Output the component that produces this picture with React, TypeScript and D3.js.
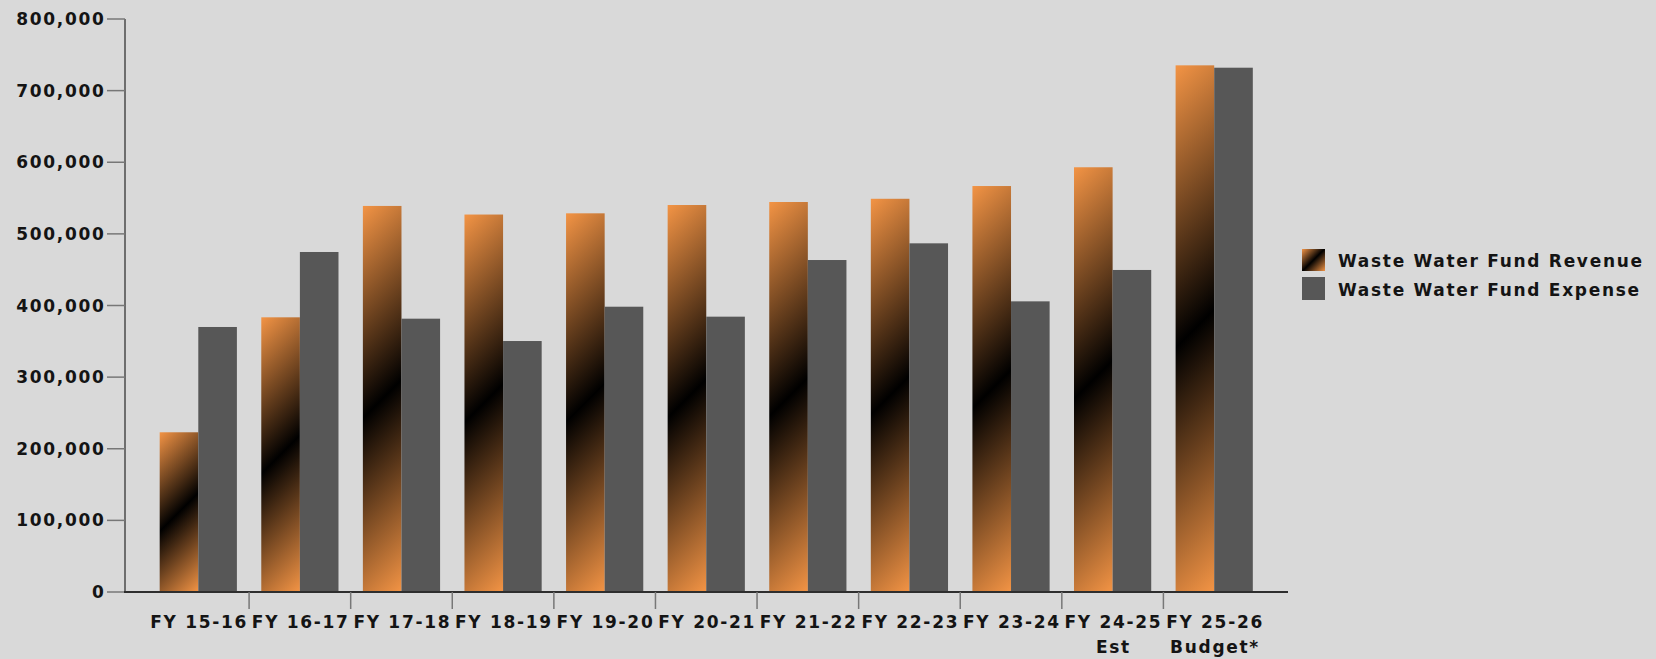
import React from "react";
import * as d3 from "d3";

const categories = [
  "FY 15-16",
  "FY 16-17",
  "FY 17-18",
  "FY 18-19",
  "FY 19-20",
  "FY 20-21",
  "FY 21-22",
  "FY 22-23",
  "FY 23-24",
  "FY 24-25\nEst",
  "FY 25-26\nBudget*",
];
const seriesNames = ["Waste Water Fund Revenue", "Waste Water Fund Expense"];
const revenue = [223000, 383500, 539000, 527000, 528700, 540300, 544500, 549000, 566800, 593000, 735300];
const expense = [370000, 474700, 381600, 350400, 398300, 384400, 463500, 486800, 405800, 449600, 732000];
const yTicks = [0, 100000, 200000, 300000, 400000, 500000, 600000, 700000, 800000];

const W = 1656;
const H = 659;
const ORANGE = "#f39445";
const GRAY = "#575757";
const BG = "#d9d9d9";
const FONT = "'DejaVu Sans', Verdana, sans-serif";

export default function App() {
  const x = d3
    .scaleBand<string>()
    .domain(categories)
    .range([147.5, 1265])
    .paddingInner(0.24)
    .paddingOuter(0.12);
  const x1 = d3.scaleBand<string>().domain(seriesNames).range([0, x.bandwidth()]);
  const y = d3.scaleLinear().domain([0, 800000]).range([592, 19]);
  const fmt = d3.format(",");
  const step = x.step();
  const values = [revenue, expense];

  const bars: any[] = [];
  const grads: any[] = [];
  categories.forEach((c, i) => {
    seriesNames.forEach((s, si) => {
      const v = values[si][i];
      const bx = (x(c) as number) + (x1(s) as number);
      const bw = x1.bandwidth();
      const top = y(v);
      const h = y(0) - top;
      if (si === 0) {
        const id = `g${i}`;
        const L = (bw + h) / 2;
        grads.push(
          <linearGradient key={id} id={id} gradientUnits="userSpaceOnUse" x1={bx} y1={top} x2={bx + L} y2={top + L}>
            <stop offset="0" stopColor={ORANGE} />
            <stop offset="0.5" stopColor="#000" />
            <stop offset="1" stopColor={ORANGE} />
          </linearGradient>
        );
        bars.push(<rect key={`r${i}`} x={bx} y={top} width={bw} height={h} fill={`url(#${id})`} />);
      } else {
        bars.push(<rect key={`e${i}`} x={bx} y={top} width={bw} height={h} fill={GRAY} />);
      }
    });
  });

  const textStyle = { fontFamily: FONT, fontWeight: 700, fontSize: 17, letterSpacing: "1.7px", fill: "#141414" } as any;

  return (
    <div>
      <style>{`body{margin:0;}`}</style>
      <svg width={W} height={H} style={{ display: "block" }}>
        <defs>
          {grads}
          <linearGradient id="legG" gradientUnits="userSpaceOnUse" x1={1302} y1={249} x2={1324.5} y2={271.5}>
            <stop offset="0" stopColor={ORANGE} />
            <stop offset="0.5" stopColor="#000" />
            <stop offset="1" stopColor={ORANGE} />
          </linearGradient>
        </defs>
        <rect x={0} y={0} width={W} height={H} fill={BG} />
        {bars}
        {/* y axis */}
        <line x1={125} x2={125} y1={y(800000)} y2={y(0)} stroke="#6e6e6e" strokeWidth={2} />
        {yTicks.map((t) => (
          <g key={t}>
            <line x1={107} x2={125} y1={y(t)} y2={y(t)} stroke="#777" strokeWidth={1.5} />
            <text x={105.5} y={y(t)} dy="0.36em" textAnchor="end" style={textStyle}>
              {fmt(t)}
            </text>
          </g>
        ))}
        {/* x axis */}
        <line x1={124} x2={1288} y1={y(0)} y2={y(0)} stroke="#2e2e2e" strokeWidth={2} />
        {categories.slice(0, -1).map((c) => {
          const tx = (x(c) as number) + x.bandwidth() / 2 + step / 2;
          return <line key={`t${c}`} x1={tx} x2={tx} y1={y(0)} y2={609} stroke="#777" strokeWidth={1.5} />;
        })}
        {categories.map((c) => {
          const cx = (x(c) as number) + x.bandwidth() / 2;
          return (
            <text key={`l${c}`} textAnchor="middle" style={textStyle}>
              {c.split("\n").map((ln, k) => (
                <tspan key={k} x={cx + 0.85} y={628.3 + k * 24.5}>
                  {ln}
                </tspan>
              ))}
            </text>
          );
        })}
        {/* legend */}
        <rect x={1302} y={249} width={23} height={22} fill="url(#legG)" />
        <rect x={1302} y={277} width={23} height={23} fill={GRAY} />
        <text x={1338} y={267.3} style={textStyle}>
          {seriesNames[0]}
        </text>
        <text x={1338} y={295.8} style={textStyle}>
          {seriesNames[1]}
        </text>
      </svg>
    </div>
  );
}
